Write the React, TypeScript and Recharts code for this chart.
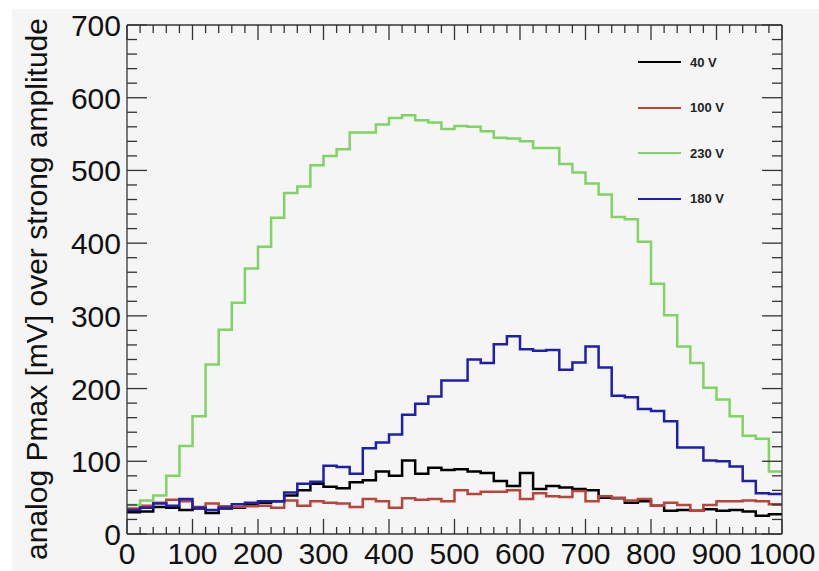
import { LineChart, Line, XAxis, YAxis } from 'recharts';

const BIN_WIDTH = 20;

// bin contents, one value per 20-wide bin from 0 to 1000
const V40 = [
  30, 31, 37, 36, 33, 35, 29, 35, 36, 40, 43, 45, 53, 60, 69, 65, 63, 71, 74, 86, 80, 101, 83, 91, 88,
  89, 86, 84, 73, 66, 84, 62, 66, 64, 62, 60, 50, 49, 43, 45, 39, 32, 33, 32, 34, 32, 33, 31, 25, 27,
];
const V100 = [
  35, 39, 43, 47, 45, 37, 42, 38, 37, 38, 39, 36, 46, 39, 45, 43, 42, 37, 48, 45, 36, 49, 47, 48, 45,
  60, 55, 58, 58, 60, 48, 56, 52, 51, 59, 45, 52, 50, 46, 48, 39, 43, 40, 32, 40, 45, 45, 46, 45, 41,
];
const V230 = [
  40, 46, 53, 80, 121, 162, 233, 281, 318, 365, 395, 435, 469, 478, 507, 520, 529, 552, 552, 563, 572,
  576, 569, 566, 557, 561, 560, 554, 545, 544, 540, 531, 531, 509, 497, 482, 467, 436, 433, 402, 344,
  301, 258, 235, 201, 185, 162, 135, 131, 86,
];
const V180 = [
  33, 36, 42, 39, 48, 36, 33, 36, 41, 43, 45, 45, 57, 69, 72, 94, 92, 83, 118, 126, 137, 164, 179, 189,
  211, 211, 240, 235, 261, 272, 254, 252, 253, 226, 236, 258, 229, 190, 188, 172, 169, 155, 119, 119,
  101, 100, 93, 73, 56, 55,
];

const X_TICKS = Array.from({ length: 51 }, (_, i) => i * 20);
const Y_TICKS = Array.from({ length: 36 }, (_, i) => i * 20);

const SERIES = [
  { key: 'v40', label: '40 V', color: '#000000', values: V40 },
  { key: 'v100', label: '100 V', color: '#b9443c', values: V100 },
  { key: 'v230', label: '230 V', color: '#80d463', values: V230 },
  { key: 'v180', label: '180 V', color: '#1f1fae', values: V180 },
];

// one row per bin edge, the last edge repeats the last bin so the step reaches 1000
const data = Array.from({ length: V40.length + 1 }, (_, i) => {
  const j = Math.min(i, V40.length - 1);
  const row: Record<string, number> = { x: i * BIN_WIDTH };
  SERIES.forEach((s) => (row[s.key] = s.values[j]));
  return row;
});

const AXIS = '#333';
const FONT = "'Liberation Sans', Arial, sans-serif";

const BottomTick = ({ x, y, payload }: any) => {
  const major = payload.value % 100 === 0;
  return (
    <g>
      <line x1={x} y1={y} x2={x} y2={y - (major ? 15 : 7)} stroke={AXIS} strokeWidth={1.3} />
      {major && (
        <text x={x} y={y + 30} textAnchor="middle" fontSize={30} fontFamily={FONT} fill="#111">
          {payload.value}
        </text>
      )}
    </g>
  );
};

const TopTick = ({ x, y, payload }: any) => {
  const major = payload.value % 100 === 0;
  return <line x1={x} y1={y} x2={x} y2={y + (major ? 15 : 8)} stroke={AXIS} strokeWidth={1.3} />;
};

const LeftTick = ({ x, y, payload }: any) => {
  const major = payload.value % 100 === 0;
  return (
    <g>
      <line x1={x} y1={y} x2={x + (major ? 20 : 10)} y2={y} stroke={AXIS} strokeWidth={1.3} />
      {major && (
        <text x={x - 6} y={y + 11} textAnchor="end" fontSize={30} fontFamily={FONT} fill="#111">
          {payload.value}
        </text>
      )}
    </g>
  );
};

const RightTick = ({ x, y, payload }: any) => {
  const major = payload.value % 100 === 0;
  return <line x1={x} y1={y} x2={x - (major ? 20 : 10)} y2={y} stroke={AXIS} strokeWidth={1.3} />;
};

const YTitle = () => (
  <text
    transform="translate(47, 289) rotate(-90)"
    textAnchor="middle"
    fontSize={30}
    fontFamily={FONT}
    fill="#111"
  >
    analog Pmax [mV] over strong amplitude
  </text>
);

export default function App() {
  return (
    <div style={{ position: 'absolute', left: 0, top: 0, width: 819, height: 571, background: '#fff' }}>
      <div style={{ position: 'absolute', left: 12, top: 9, width: 807, height: 562, background: '#f5f5f5' }} />
      <div style={{ position: 'absolute', left: 0, top: 0 }}>
        <LineChart width={819} height={571} data={data} margin={{ top: 24, right: 36, bottom: 36, left: 0 }}>
          <XAxis
            dataKey="x"
            type="number"
            domain={[0, 1000]}
            ticks={X_TICKS}
            interval={0}
            height={1}
            tickSize={0}
            tickMargin={0}
            tick={<BottomTick />}
            axisLine={{ stroke: AXIS, strokeWidth: 1.3 }}
            tickLine={false}
          />
          <XAxis
            xAxisId="top"
            orientation="top"
            dataKey="x"
            type="number"
            domain={[0, 1000]}
            allowDataOverflow
            ticks={X_TICKS}
            interval={0}
            height={1}
            tickSize={0}
            tickMargin={0}
            tick={<TopTick />}
            axisLine={{ stroke: AXIS, strokeWidth: 1.3 }}
            tickLine={false}
          />
          <YAxis
            type="number"
            domain={[0, 700]}
            allowDataOverflow
            ticks={Y_TICKS}
            interval={0}
            width={127}
            tickSize={0}
            tickMargin={0}
            tick={<LeftTick />}
            axisLine={{ stroke: AXIS, strokeWidth: 1.3 }}
            tickLine={false}
            label={<YTitle />}
          />
          <YAxis
            yAxisId="right"
            orientation="right"
            type="number"
            domain={[0, 700]}
            allowDataOverflow
            ticks={Y_TICKS}
            interval={0}
            width={1}
            tickSize={0}
            tickMargin={0}
            tick={<RightTick />}
            axisLine={{ stroke: AXIS, strokeWidth: 1.3 }}
            tickLine={false}
          />
          {SERIES.map((s) => (
            <Line
              key={s.key}
              type="stepAfter"
              dataKey={s.key}
              stroke={s.color}
              strokeWidth={2.5}
              dot={false}
              activeDot={false}
              isAnimationActive={false}
            />
          ))}
        </LineChart>
      </div>
      <div style={{ position: 'absolute', left: 638, top: 51, fontFamily: FONT }}>
        {SERIES.map((s) => (
          <div key={s.key} style={{ display: 'flex', alignItems: 'center', height: 22, marginBottom: 23.6 }}>
            <div style={{ width: 43, height: 2, background: s.color }} />
            <span style={{ marginLeft: 9, fontSize: 13, fontWeight: 'bold', color: '#222' }}>{s.label}</span>
          </div>
        ))}
      </div>
    </div>
  );
}
